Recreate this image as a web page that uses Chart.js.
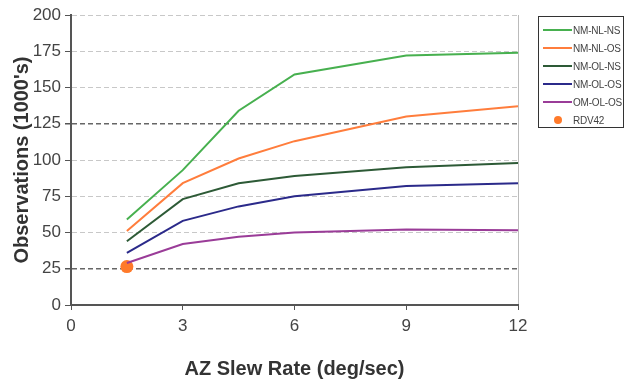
<!DOCTYPE html>
<html>
<head>
<meta charset="utf-8">
<script src="https://cdn.jsdelivr.net/npm/chart.js@4"></script>
<style>
  body { margin: 0; background: #fff; font-family: "Liberation Sans", Arial, sans-serif; }
  #wrap { position: relative; width: 634px; height: 381px; }
  #legend {
    position: absolute; left: 538px; top: 16px; width: 86px; height: 112px;
    border: 1.5px solid #333; box-sizing: border-box; padding-top: 4px;
  }
  .item { height: 18px; display: flex; align-items: center; font-size: 10px; color: #444; white-space: nowrap; letter-spacing: -0.2px; }
  .mark { width: 29px; margin-left: 4px; margin-right: 1px; display: flex; justify-content: center; align-items: center; }
</style>
</head>
<body>
<div id="wrap">
  <canvas id="myChart" width="634" height="381"></canvas>
  <div id="legend"></div>
</div>
<script>
var rates = [1.5, 3, 4.5, 6, 9, 12];
var nmNlNs = [59, 93, 134, 159, 172, 174];
var nmNlOs = [51, 84, 101, 113, 130, 137];
var nmOlNs = [44, 73, 84, 89, 95, 98];
var nmOlOs = [36, 58, 68, 75, 82, 84];
var omOlOs = [29, 42, 47, 50, 52, 51.5];
var rdvRate = [1.5];
var rdv42 = [26.5];

var names = ['NM-NL-NS', 'NM-NL-OS', 'NM-OL-NS', 'NM-OL-OS', 'OM-OL-OS'];
var colors = ['#47b04f', '#ff7d3c', '#2d5a36', '#2b2a8a', '#9a3c98'];
var series = [nmNlNs, nmNlOs, nmOlNs, nmOlOs, omOlOs];

function points(xs, ys) {
    return ys.map(function(v, i) { return {x: xs[i], y: v}; });
}

var datasets = series.map(function(s, i) {
    return {
        label: names[i],
        data: points(rates, s),
        borderColor: colors[i],
        backgroundColor: colors[i],
        borderWidth: 2,
        pointRadius: 0,
        tension: 0
    };
});
datasets.push({
    label: 'RDV42',
    data: points(rdvRate, rdv42),
    showLine: false,
    borderColor: '#ff7a2a',
    backgroundColor: '#ff7a2a',
    pointRadius: 6.5,
    pointBorderWidth: 0
});

var ctx = document.getElementById('myChart');
var chart = new Chart(ctx, {
    type: 'line',
    data: { datasets: datasets },
    options: {
        responsive: false,
        animation: false,
        layout: { padding: { top: 15, right: 116, left: 6, bottom: 0 } },
        plugins: { legend: { display: false }, tooltip: { enabled: false } },
        scales: {
            x: {
                type: 'linear',
                min: 0, max: 12,
                ticks: { stepSize: 3, color: '#444', padding: 6, font: { family: 'Liberation Sans', size: 17 } },
                grid: {
                    color: function(c) { return c.tick && c.tick.value === 12 ? '#bbb' : 'rgba(0,0,0,0)'; },
                    tickColor: '#555', tickLength: 5, lineWidth: 1
                },
                border: { color: '#555', width: 2 },
                title: { display: true, text: 'AZ Slew Rate (deg/sec)', color: '#333', padding: { top: 16, bottom: 0 },
                         font: { family: 'Liberation Sans', size: 20, weight: 'bold' } },
                afterFit: function(s) { s.height = 76; }
            },
            y: {
                min: 0, max: 200,
                ticks: { stepSize: 25, color: '#444', padding: 4, font: { family: 'Liberation Sans', size: 17 } },
                grid: {
                    color: function(c) {
                        var v = c.tick ? c.tick.value : 0;
                        return (v === 25 || v === 125) ? '#666' : '#c8c8c8';
                    },
                    lineWidth: function(c) {
                        var v = c.tick ? c.tick.value : 0;
                        return (v === 25 || v === 125) ? 1.5 : 1;
                    },
                    tickColor: '#555', tickLength: 6
                },
                border: { color: '#555', width: 2, dash: [5, 3] },
                title: { display: true, text: "Observations (1000's)", color: '#333',
                         font: { family: 'Liberation Sans', size: 20, weight: 'bold' } },
                afterFit: function(s) { s.width = 65; }
            }
        }
    }
});

// legend with a box like the original
var leg = document.getElementById('legend');
chart.data.datasets.forEach(function(ds) {
    var mark = ds.showLine === false
        ? '<span style="width:8px;height:8px;border-radius:50%;background:' + ds.backgroundColor + '"></span>'
        : '<span style="width:29px;height:2.5px;background:' + ds.borderColor + '"></span>';
    leg.innerHTML += '<div class="item"><span class="mark">' + mark + '</span><span>' + ds.label + '</span></div>';
});
</script>
</body>
</html>
